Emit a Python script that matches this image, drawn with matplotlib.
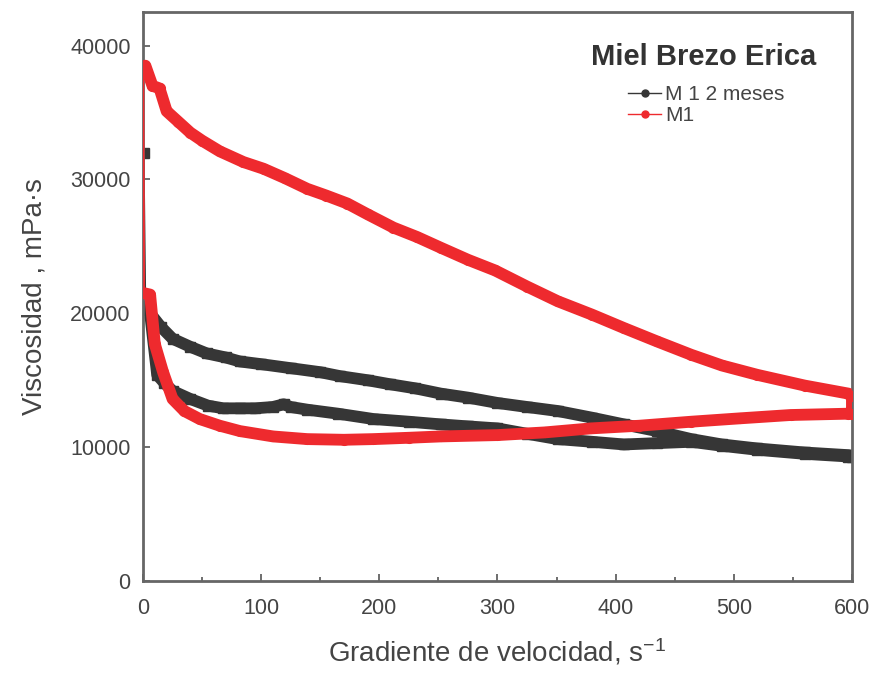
import matplotlib
matplotlib.use("Agg")
import matplotlib.pyplot as plt
from matplotlib.lines import Line2D

plt.rcParams['font.family'] = ['Liberation Sans', 'DejaVu Sans']
plt.rcParams['mathtext.fontset'] = 'custom'
plt.rcParams['mathtext.rm'] = 'Liberation Sans'
plt.rcParams['mathtext.it'] = 'Liberation Sans'

# ---- data ----
# M 1 2 meses (black): first spike point, then upper branch 0->600, then lower branch 600->0
m12_spike_x = [0.5]
m12_spike_y = [32000]
m12_up_x = [2, 6, 15, 25, 40, 54, 70, 82, 100, 125, 150, 167, 190, 209, 230, 252, 275, 300,
            325, 351, 380, 407, 435, 464, 490, 520, 560, 597, 600]
m12_up_y = [20500, 20000, 19000, 18100, 17500, 17000, 16700, 16400, 16200, 15900, 15600, 15300,
            15000, 14700, 14400, 14000, 13700, 13300, 13000, 12700, 12200, 11700, 11200, 10600,
            10200, 9900, 9600, 9400, 9350]
m12_down_x = [600, 597, 560, 520, 490, 464, 435, 407, 380, 351, 325, 300, 275, 252, 225, 195, 165,
              139, 125, 119, 110, 95, 82, 68, 55, 40, 25, 18, 12, 6]
m12_down_y = [9300, 9300, 9500, 9800, 10100, 10400, 10300, 10200, 10400, 10600, 11000, 11400,
              11550, 11700, 11900, 12100, 12500, 12800, 13000, 13200, 13000, 12900, 12900, 12900,
              13100, 13600, 14200, 14800, 15400, 20000]

# M1 (red): first spike point, lower branch 0->600, upper branch 600->0
m1_spike_x = [0.3]
m1_spike_y = [38000]
m1_up_x = [1, 6, 10, 17, 25, 35, 48, 65, 82, 110, 139, 170, 195, 225, 252, 300, 340, 379, 420,
           464, 505, 548, 597, 600]
m1_up_y = [21500, 21400, 17700, 15600, 13600, 12700, 12100, 11600, 11200, 10800, 10600, 10550,
           10600, 10700, 10800, 10900, 11100, 11400, 11600, 11900, 12150, 12400, 12500, 12500]
m1_down_x = [600, 597, 560, 520, 490, 464, 435, 407, 380, 351, 325, 298, 275, 252, 232, 212, 190,
             173, 155, 139, 120, 102, 85, 65, 50, 40, 30, 20, 14, 8, 2]
m1_down_y = [13800, 14000, 14600, 15400, 16100, 16900, 17900, 18900, 19900, 20900, 22000, 23200,
             24000, 24900, 25700, 26400, 27400, 28200, 28800, 29300, 30100, 30800, 31300, 32100,
             32900, 33500, 34300, 35100, 36800, 37000, 38500]

series_labels = ["M 1 2 meses", "M1"]
legend_title = "Miel Brezo Erica"
xticks = [0, 100, 200, 300, 400, 500, 600]
yticks = [0, 10000, 20000, 30000, 40000]

c_black = "#363636"
c_red = "#ee2a2e"

fig = plt.figure(figsize=(8.72, 6.74), dpi=100)
ax = fig.add_axes([0.164, 0.138, 0.813, 0.844])


def draw(sx, sy, ux, uy, dx, dy, color, marker, z):
    fx = sx + ux + dx
    fy = sy + uy + dy
    ax.plot(fx, fy, color=color, lw=1.3, zorder=z)
    bx = ux + dx
    by = uy + dy
    ax.plot(bx, by, color=color, lw=8.5, solid_capstyle='round', solid_joinstyle='round',
            zorder=z + 0.1)
    ax.plot(fx, fy, linestyle='none', marker=marker, ms=7, color=color, zorder=z + 0.2)


draw(m12_spike_x, m12_spike_y, m12_up_x, m12_up_y, m12_down_x, m12_down_y, c_black, 's', 2)
draw(m1_spike_x, m1_spike_y, m1_up_x, m1_up_y, m1_down_x, m1_down_y, c_red, 'o', 3)

ax.set_xlim(0, 600)
ax.set_ylim(0, 42500)
ax.set_xticks(xticks)
ax.set_yticks(yticks)
ax.set_xticks(range(50, 600, 100), minor=True)
ax.tick_params(axis='both', which='both', direction='in', colors='#555555',
               labelcolor='#444444', labelsize=15.5, width=1.2)
ax.tick_params(which='major', length=5)
ax.tick_params(which='minor', length=3)
ax.tick_params(axis='x', pad=12)
ax.tick_params(axis='y', pad=9)
for s in ax.spines.values():
    s.set_color('#666666')
    s.set_linewidth(2)

ax.set_xlabel("Gradiente de velocidad, s$^{-1}$", fontsize=20, color='#444444', labelpad=13)
ax.set_ylabel("Viscosidad , mPa·s", fontsize=20, color='#444444', labelpad=16)

ax.text(0.791, 0.921, legend_title, transform=ax.transAxes, ha='center', va='center',
        fontsize=21, fontweight='bold', color='#333333')

handles = [
    Line2D([], [], color=c_black, lw=1, marker='o', ms=5, markerfacecolor=c_black),
    Line2D([], [], color=c_red, lw=1, marker='o', ms=5, markerfacecolor=c_red),
]
leg = ax.legend(handles, series_labels, loc='upper left',
                bbox_to_anchor=(0.684, 0.872), frameon=False, fontsize=15,
                handlelength=1.6, handletextpad=0.2, borderpad=0, borderaxespad=0,
                labelspacing=0.12, labelcolor='#444444')

fig.savefig("out.png", dpi=100)
